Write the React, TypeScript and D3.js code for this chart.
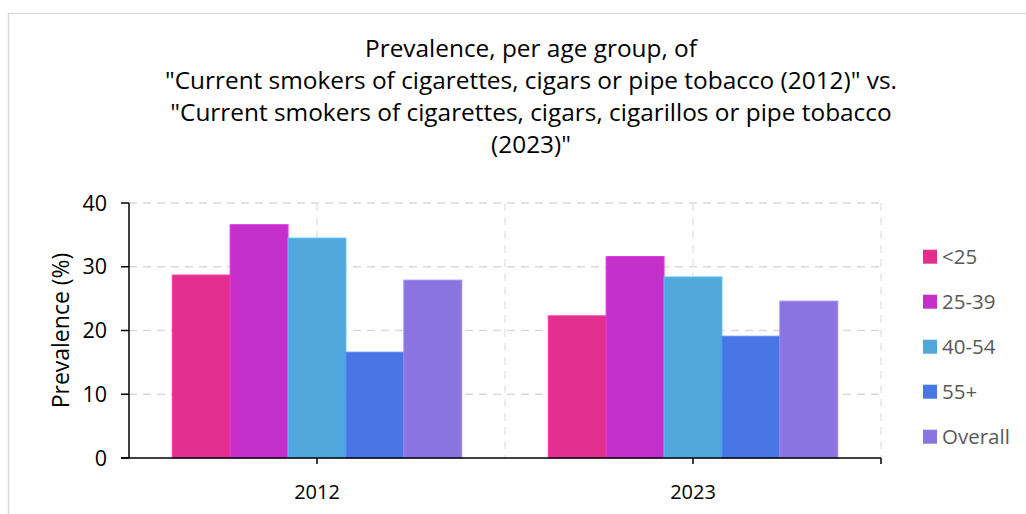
import React from "react";
import * as d3 from "d3";

const years = ["2012", "2023"];
const groups = ["<25", "25-39", "40-54", "55+", "Overall"];
const values2012 = [28.7, 36.6, 34.5, 16.6, 27.9];
const values2023 = [22.3, 31.6, 28.4, 19.1, 24.6];
const colors = ["#E32F8E", "#C430C9", "#50A7DC", "#4877E5", "#8A74E0"];
const yTicks = [0, 10, 20, 30, 40];
const titleLines = [
  "Prevalence, per age group, of",
  "\"Current smokers of cigarettes, cigars or pipe tobacco (2012)\" vs.",
  "\"Current smokers of cigarettes, cigars, cigarillos or pipe tobacco",
  "(2023)\"",
];

const W = 1026;
const H = 514;
const L = 129, R = 881, T = 203, B = 458;

export default function App() {
  const series = [values2012, values2023];
  const x = d3.scaleBand<string>().domain(years).range([L, R]).padding(0);
  const y = d3.scaleLinear().domain([0, 40]).range([B, T]);
  const groupW = x.bandwidth() * 0.77;
  const xi = d3.scaleBand<string>().domain(groups).range([0, groupW]).padding(0);
  const font = "'Open Sans', sans-serif";
  const vGrid: number[] = [];
  years.forEach((yr) => {
    vGrid.push((x(yr) as number) + x.bandwidth() / 2);
    vGrid.push((x(yr) as number) + x.bandwidth());
  });

  return (
    <svg width={W} height={H} style={{ position: "absolute", left: 0, top: 0 }}>
      <rect x={0} y={0} width={W} height={H} fill="#fff" />
      <path d={`M8.5,${H} V13.5 H${W}`} fill="none" stroke="#d9d9d9" strokeWidth={1.5} />
      {titleLines.map((t, i) => (
        <text key={i} x={531} y={57 + i * 32} textAnchor="middle" fontFamily={font} fontSize={24.4} fill="#000">
          {t}
        </text>
      ))}
      {yTicks.filter((t) => t > 0).map((t) => (
        <line key={t} x1={L} x2={R} y1={y(t)} y2={y(t)} stroke="#d9d9d9" strokeWidth={1.5} strokeDasharray="8,6" />
      ))}
      {vGrid.map((vx, i) => (
        <line key={i} x1={vx} x2={vx} y1={T} y2={B} stroke="#e6e6e6" strokeWidth={1.5} strokeDasharray="8,6" />
      ))}
      {years.map((yr, yi) => {
        const gx = (x(yr) as number) + (x.bandwidth() - groupW) / 2;
        return groups.map((g, gi) => (
          <rect
            key={yr + g}
            x={gx + (xi(g) as number)}
            y={y(series[yi][gi])}
            width={xi.bandwidth()}
            height={B - y(series[yi][gi])}
            fill={colors[gi]}
            stroke={d3.color(colors[gi])!.brighter(0.4).formatHex()}
            strokeWidth={1}
          />
        ));
      })}
      <line x1={L} x2={L} y1={T} y2={B} stroke="#000" strokeWidth={1.5} />
      <line x1={L - 8} x2={R} y1={B} y2={B} stroke="#000" strokeWidth={1.5} />
      {yTicks.map((t) => (
        <g key={t}>
          <line x1={L - 8} x2={L} y1={y(t)} y2={y(t)} stroke="#000" strokeWidth={1.5} />
          <text x={107} y={y(t) + 7.5} textAnchor="end" fontFamily={font} fontSize={21.5} fill="#000">
            {t}
          </text>
        </g>
      ))}
      {years.map((yr) => {
        const cx = (x(yr) as number) + x.bandwidth() / 2;
        return (
          <g key={yr}>
            <line x1={cx} x2={cx} y1={B} y2={B + 6} stroke="#000" strokeWidth={1.5} />
            <text x={cx} y={499} textAnchor="middle" fontFamily={font} fontSize={20} fill="#000">
              {yr}
            </text>
          </g>
        );
      })}
      <line x1={R} x2={R} y1={B} y2={B + 6} stroke="#000" strokeWidth={1.5} />
      <text
        transform={`translate(69,${(T + B) / 2}) rotate(-90)`}
        textAnchor="middle"
        fontFamily={font}
        fontSize={23}
        fill="#000"
      >
        Prevalence (%)
      </text>
      {groups.map((g, i) => (
        <g key={g} transform={`translate(923,${256.7 + i * 45})`}>
          <rect x={0} y={-7} width={14} height={14} fill={colors[i]} />
          <text x={19} y={7.5} fontFamily={font} fontSize={20.5} fill="#595959">
            {g}
          </text>
        </g>
      ))}
    </svg>
  );
}
